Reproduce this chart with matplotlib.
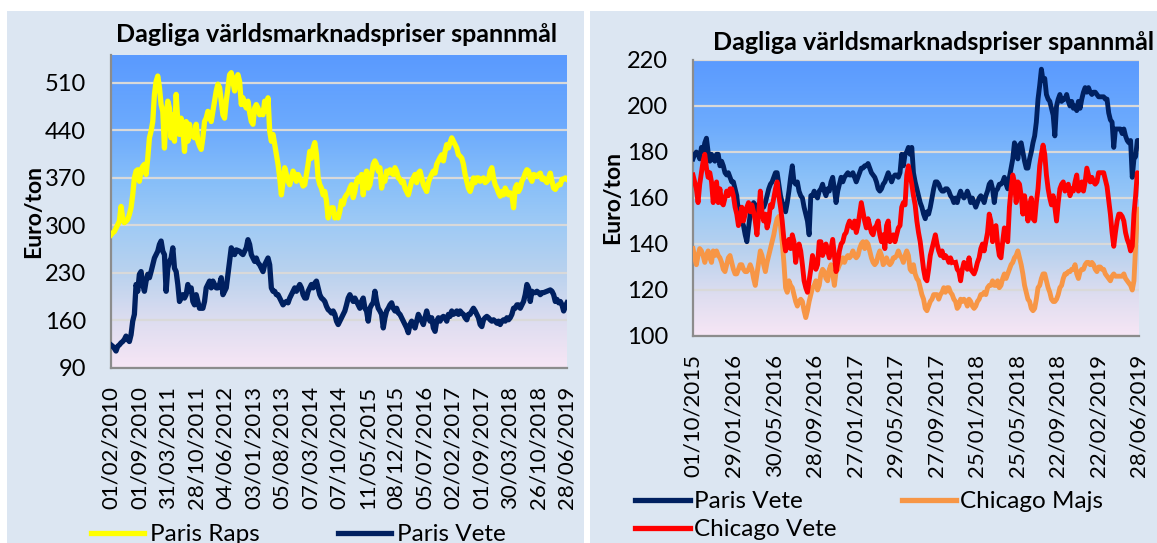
import matplotlib.pyplot as plt
import numpy as np
from matplotlib.colors import LinearSegmentedColormap
from matplotlib.lines import Line2D
from matplotlib.patches import Rectangle

plt.rcParams['font.family'] = ['Lato', 'DejaVu Sans']

title = "Dagliga världsmarknadspriser spannmål"

# ---- left chart: Paris Raps / Paris Vete, 2010-2019 (Euro/ton)
paris_raps = [
    286, 289, 291, 296, 301, 306, 328, 311, 304, 306, 309, 316, 326, 345, 370, 380, 382, 365, 382, 387,
    390, 375, 399, 429, 439, 453, 493, 512, 520, 503, 478, 468, 414, 463, 483, 473, 429, 463, 424, 493,
    453, 434, 458, 444, 409, 453, 424, 449, 434, 431, 429, 449, 424, 417, 412, 429, 453, 458, 468, 461,
    453, 468, 483, 498, 508, 503, 483, 463, 458, 483, 503, 522, 525, 512, 498,
    517, 522, 512, 478, 488, 478, 473, 483, 466, 453, 449, 473, 478, 473, 463, 468, 463, 483, 468, 488,
    439, 424, 434, 419, 404, 390, 370, 345, 365, 385, 375, 365, 360, 370, 380, 375, 365, 375, 370, 365,
    358, 360, 375, 390, 409, 399, 414, 422, 404, 370, 360, 355, 345, 350, 336, 311, 321, 326, 326, 311,
    316, 311, 321, 336, 331, 341, 345, 348, 355, 360, 341, 350, 365, 370, 365, 375, 345, 370, 380, 355,
    360, 375, 390,
    395, 390, 380, 385, 355, 370, 365, 380, 377, 382, 377, 375, 385, 380, 370, 368, 363, 365, 355, 350,
    345, 355, 365, 370, 375, 363, 377, 380, 370, 360, 355, 350, 363, 370, 375, 380, 377, 390, 395, 400,
    404, 395, 409, 419, 414, 422, 429, 424, 419, 414, 404, 402, 399, 390, 375, 365, 355, 350, 358, 370,
    363, 370, 370, 365, 368, 370, 363, 365, 368, 380, 385, 370, 360, 355, 348, 343, 350, 345, 355, 350,
    345, 348, 345, 326,
    355, 360, 350, 355, 365, 370, 377, 382, 380, 370, 365, 375, 374, 372, 375, 377, 368, 370, 366, 363,
    370, 377, 365, 355, 353, 358, 360, 360, 368, 368, 370, 368,
]
paris_vete_1 = [
    124, 122, 119, 115, 122, 124, 127, 129, 132, 137, 132, 129, 139, 159, 169, 213, 203, 228, 232, 213,
    203, 218, 228, 223, 232, 242, 252, 257, 262, 272, 277, 262, 257, 203, 237, 247, 252, 267, 237, 232,
    213, 188, 193, 198, 193, 198, 213, 203, 208, 188, 183, 198, 188, 178, 178, 178, 188, 208, 213, 218,
    208, 218, 213, 208, 208, 213, 223, 198, 203, 208, 228, 247, 267, 262, 257,
    264, 263, 262, 259, 257, 262, 267, 279, 272, 257, 252, 247, 252, 245, 242, 237, 232, 242, 247, 252,
    242, 208, 203, 203, 198, 198, 193, 188, 183, 186, 188, 186, 193, 198, 203, 208, 203, 208, 213, 208,
    198, 193, 193, 203, 208, 213, 208, 215, 218, 208, 198, 193, 191, 188, 181, 176, 174, 171, 174, 169,
    159, 154, 159, 164, 169, 174, 183, 193, 198, 193, 188, 193, 188, 183, 178, 188, 193, 178, 174, 159,
    178, 183, 186,
    203, 188, 178, 174, 169, 149, 164, 174, 178, 183, 186, 178, 174, 178, 171, 169, 164, 159, 154, 149,
    142, 154, 159, 154, 149, 159, 169, 164, 159, 154, 164, 174, 164, 159, 164, 149, 144, 159, 164, 159,
    164, 166, 164, 159, 169, 166, 174, 169, 171, 174, 169, 174, 171, 169, 164, 161, 169, 169, 174, 178,
    174, 169, 164, 154, 151, 161, 164, 166, 164, 161, 159, 161, 159, 156, 159, 154, 159, 161, 159, 164,
    161, 164, 169, 178,
    178, 183, 183, 178, 183, 188, 198, 213, 208, 188, 203, 201, 201, 203, 201, 198, 201, 201, 202, 203,
    204, 205, 203, 198, 188, 191, 186, 188, 183, 174, 181, 186,
]
left_dates = ["01/02/2010", "01/09/2010", "31/03/2011", "28/10/2011", "04/06/2012", "03/01/2013",
              "05/08/2013", "07/03/2014", "07/10/2014", "11/05/2015", "08/12/2015", "05/07/2016",
              "02/02/2017", "01/09/2017", "30/03/2018", "26/10/2018", "28/06/2019"]
left_yticks = [90, 160, 230, 300, 370, 440, 510]

# ---- right chart: Paris Vete / Chicago Majs / Chicago Vete, 2015-2019 (Euro/ton)
paris_vete_2 = [
    177, 179, 180, 179, 177, 182, 180, 184, 186, 180, 176, 179, 177, 176, 179, 179, 174, 176, 174, 171,
    170, 171, 169, 167, 167, 164, 161, 154, 156, 150, 148, 144, 141, 147, 153, 154, 158, 157, 154, 153,
    154, 157, 156, 158, 161, 164, 166, 167, 169, 171, 171, 166, 161, 158, 157, 154, 158, 163, 169, 174,
    167, 166, 167, 163, 161, 160, 156, 153, 150, 144, 161, 161, 163, 161,
    160, 163, 164, 166, 163, 161, 164, 163, 167, 169, 164, 158, 163, 166, 169, 167, 169, 170, 171, 170,
    170, 171, 169, 167, 169, 171, 173, 173, 174, 174, 175, 173, 171, 170, 169, 167, 164, 163, 164, 166,
    167, 169, 171, 169, 167, 169, 170, 170, 169, 171, 179, 174, 179, 180, 182, 179, 182, 171, 167, 164,
    161, 158, 156, 153, 151, 154, 153, 156, 160, 164, 167, 167, 166, 164, 163, 163, 164, 164, 163, 161,
    160, 158,
    160, 158, 161, 163, 161, 160, 161, 163, 161, 158, 160, 158, 156, 158, 160, 161, 160, 158, 161, 163,
    166, 167, 164, 158, 163, 164, 166, 166, 167, 169, 166, 164, 169, 173, 177, 184, 182, 177, 183, 184,
    180, 176, 173, 173, 177, 180, 184, 187, 193, 203, 209, 216, 211, 212, 205, 203, 202, 199, 196, 187,
    200, 203, 205, 202, 203, 203, 205, 202, 200, 202, 199, 200, 198, 202, 199, 203, 206, 208, 206, 208,
    206, 205, 206, 206, 205,
    204, 204, 204, 204, 203, 203, 197, 194, 193, 182, 190, 190, 190, 190, 188, 190, 187, 185, 184, 185,
    169, 177, 178, 185, 185,
]
chicago_majs = [
    138, 134, 131, 135, 138, 137, 135, 132, 135, 137, 134, 132, 137, 135, 137, 135, 134, 132, 129, 128,
    131, 134, 135, 132, 129, 127, 127, 129, 131, 131, 129, 128, 128, 129, 131, 129, 125, 122, 127, 132,
    137, 135, 131, 128, 132, 135, 138, 141, 144, 148, 151, 152, 148, 141, 132, 121, 119, 124, 122, 121,
    118, 115, 113, 115, 116, 115, 111, 108, 111, 115, 118, 121, 122, 124,
    120, 122, 127, 129, 128, 125, 124, 129, 131, 127, 122, 128, 129, 131, 132, 134, 132, 134, 135, 134,
    135, 137, 135, 134, 135, 138, 140, 141, 138, 141, 140, 137, 134, 132, 131, 132, 135, 137, 135, 131,
    132, 134, 132, 131, 132, 134, 134, 135, 137, 135, 134, 132, 135, 137, 135, 129, 128, 131, 127, 125,
    124, 121, 118, 116, 112, 111, 113, 115, 116, 118, 118, 118, 116, 118, 119, 121, 119, 121, 121, 119,
    118, 116,
    115, 112, 113, 116, 115, 116, 115, 113, 116, 115, 113, 112, 113, 115, 116, 118, 118, 119, 118, 121,
    122, 122, 124, 122, 122, 124, 121, 122, 125, 127, 125, 127, 129, 131, 132, 134, 135, 137, 134, 131,
    127, 122, 119, 116, 115, 112, 111, 112, 116, 121, 122, 125, 127, 127, 124, 121, 119, 116, 115, 115,
    116, 118, 121, 122, 125, 127, 127, 128, 128, 129, 129, 131, 127, 125, 128, 129, 129, 131, 132, 132,
    131, 132, 131, 129, 128,
    130, 130, 129, 129, 127, 126, 125, 124, 126, 127, 126, 126, 126, 126, 126, 127, 125, 124, 123, 122,
    120, 124, 139, 153, 155,
]
chicago_vete = [
    170, 167, 164, 158, 166, 171, 176, 179, 173, 169, 171, 167, 158, 164, 167, 158, 164, 158, 157, 160,
    163, 161, 164, 164, 161, 156, 153, 148, 151, 156, 150, 153, 156, 158, 154, 157, 154, 150, 144, 153,
    163, 154, 150, 153, 147, 150, 157, 156, 160, 164, 167, 161, 156, 150, 142, 137, 140, 142, 138, 144,
    141, 132, 137, 140, 137, 131, 124, 121, 119, 124, 129, 135, 132, 129,
    131, 141, 141, 135, 137, 140, 137, 134, 138, 142, 135, 128, 132, 137, 140, 141, 144, 145, 148, 150,
    148, 147, 150, 145, 148, 153, 158, 154, 150, 147, 151, 148, 145, 144, 147, 148, 150, 144, 141, 144,
    138, 148, 150, 141, 142, 144, 141, 144, 147, 148, 156, 158, 157, 170, 174, 170, 166, 161, 157, 150,
    145, 141, 135, 129, 125, 124, 129, 135, 138, 141, 144, 140, 137, 135, 137, 134, 135, 134, 132, 134,
    132, np.nan,
    132, 129, 128, 124, 129, 132, 131, 129, 134, 129, 128, 127, 129, 132, 134, 138, 140, 137, 141, 145,
    153, 150, 141, 147, 148, 140, 135, 134, 141, 147, 144, 141, 156, 164, 170, 167, 158, 167, 166, 161,
    153, 161, 156, 150, 157, 160, 151, 150, 158, 164, 174, 179, 183, 179, 170, 164, 160, 157, 161, 156,
    150, 158, 164, 166, 167, 163, 164, 166, 161, 164, 163, 167, 170, 163, 164, 167, 163, 167, 173, 170,
    167, 169, 167, 166, 167,
    171, 171, 171, 171, 168, 165, 159, 153, 145, 139, 145, 150, 153, 153, 152, 150, 145, 142, 140, 137,
    139, 153, 161, 171, 168,
]
right_dates = ["01/10/2015", "29/01/2016", "30/05/2016", "28/09/2016", "27/01/2017", "29/05/2017",
               "27/09/2017", "25/01/2018", "25/05/2018", "22/09/2018", "22/02/2019", "28/06/2019"]
right_yticks = [100, 120, 140, 160, 180, 200, 220]

navy = "#002060"
W, H = 1157, 543
fig = plt.figure(figsize=(W / 100, H / 100), dpi=100)


def fx(px):
    return px / W


def fy(py):
    return 1 - py / H


# grey-blue chart panels
for x0, x1 in [(7, 584), (590, 1157)]:
    fig.add_artist(Rectangle((fx(x0), 0), fx(x1 - x0), fy(11), transform=fig.transFigure,
                             facecolor="#DCE6F2", edgecolor="none", zorder=-10))

bg = LinearSegmentedColormap.from_list("bg", [
    (0.0, "#F7E6F5"), (0.15, "#DDDDF0"), (0.30, "#BAD2EE"), (0.45, "#A0CBF5"),
    (0.60, "#86BEF9"), (0.76, "#6DABFD"), (1.0, "#5A9AFF")])


def make_axes(box, yticks, ylim, dates, n, ylabel_x):
    x0, top, x1, bottom = box
    ax = fig.add_axes([fx(x0), fy(bottom), fx(x1 - x0), (bottom - top) / H])
    ax.set_facecolor("none")
    ax.imshow(np.linspace(0, 1, 256).reshape(-1, 1), cmap=bg, origin="lower",
              extent=[0, 1, 0, 1], transform=ax.transAxes, aspect="auto", zorder=0)
    ax.set_xlim(0, n - 1)
    ax.set_ylim(*ylim)
    ax.set_yticks(yticks)
    ax.set_xticks(np.linspace(0, n - 1, len(dates)))
    ax.set_xticklabels(dates, rotation=90)
    ax.yaxis.grid(True, color="#D9D9D9", lw=1.6)
    ax.set_axisbelow(True)
    for s in ["top", "right"]:
        ax.spines[s].set_visible(False)
    for s in ["left", "bottom"]:
        ax.spines[s].set_color("#8C8C8C")
        ax.spines[s].set_linewidth(1.6)
    ax.tick_params(axis="y", length=0, labelsize=17, pad=18)
    ax.tick_params(axis="x", length=0, labelsize=16, pad=13)
    ax.set_ylabel("Euro/ton", fontsize=16.5, fontweight="bold")
    ax.yaxis.set_label_coords(ylabel_x, 0.5)
    return ax


# left chart
axL = make_axes((111, 55, 567, 368), left_yticks, (90, 551), left_dates, len(paris_raps), -0.147)
xl = np.arange(len(paris_raps))
axL.plot(xl, paris_raps, color="#FFFF00", lw=3.8, solid_joinstyle="round", zorder=3)
axL.plot(xl, paris_vete_1, color=navy, lw=3.8, solid_joinstyle="round", zorder=3)
fig.text(fx(337), fy(35), title, ha="center", va="center", fontsize=18, fontweight="bold")

# right chart
axR = make_axes((693, 60, 1139, 336), right_yticks, (100, 220), right_dates, len(paris_vete_2), -0.157)
xr = np.arange(len(paris_vete_2))
axR.plot(xr, paris_vete_2, color=navy, lw=3.5, solid_joinstyle="round", zorder=3)
axR.plot(xr, chicago_majs, color="#F79646", lw=3.5, solid_joinstyle="round", zorder=3)
axR.plot(xr, chicago_vete, color="#FF0000", lw=3.5, solid_joinstyle="round", zorder=3)
fig.text(fx(934), fy(42), title, ha="center", va="center", fontsize=18, fontweight="bold")

# legends
legend_items = [
    ("Paris Raps", "#FFFF00", 91, 144, 150, 533),
    ("Paris Vete", navy, 338, 391, 397, 533),
    ("Paris Vete", navy, 635, 690, 694, 500),
    ("Chicago Majs", "#F79646", 902, 956, 960, 500),
    ("Chicago Vete", "#FF0000", 635, 690, 694, 528),
]
for label, color, lx0, lx1, tx, ly in legend_items:
    fig.add_artist(Line2D([fx(lx0), fx(lx1)], [fy(ly), fy(ly)], transform=fig.transFigure,
                          color=color, lw=3.8))
    fig.text(fx(tx), fy(ly + 8), label, va="baseline", fontsize=17.5)

fig.savefig("out.png", dpi=100)
